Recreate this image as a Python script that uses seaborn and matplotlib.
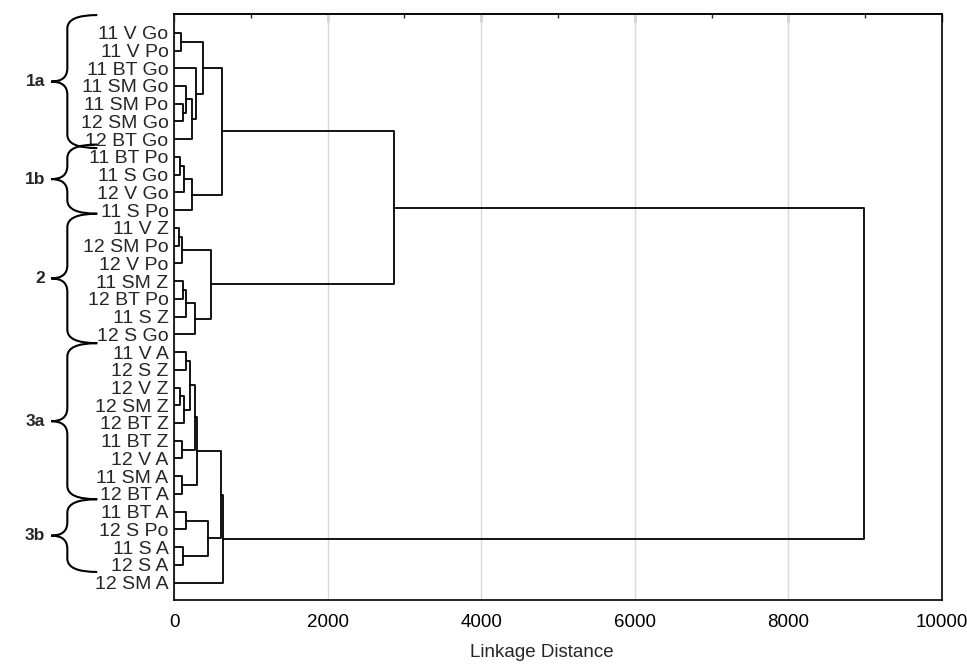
import numpy as np
import pandas as pd
import matplotlib
matplotlib.use("Agg")
import matplotlib.pyplot as plt
import matplotlib.transforms as mtransforms
from matplotlib.path import Path
from matplotlib.patches import PathPatch
from matplotlib.ticker import MultipleLocator
import seaborn as sns

# leaves, top to bottom
leaf_labels = [
    "11 V Go", "11 V Po", "11 BT Go", "11 SM Go", "11 SM Po", "12 SM Go", "12 BT Go",
    "11 BT Po", "11 S Go", "12 V Go", "11 S Po",
    "11 V Z", "12 SM Po", "12 V Po", "11 SM Z", "12 BT Po", "11 S Z", "12 S Go",
    "11 V A", "12 S Z", "12 V Z", "12 SM Z", "12 BT Z", "11 BT Z", "12 V A", "11 SM A", "12 BT A",
    "11 BT A", "12 S Po", "11 S A", "12 S A", "12 SM A",
]

# merges (scipy-like): ids >= 32 refer to earlier merges (32 + row)
merge_left = [0, 4, 3, 34, 2, 32, 7, 38, 39, 37,
              11, 42, 14, 44, 45, 43, 41,
              18, 20, 50, 49, 23, 52, 25, 54,
              27, 29, 57, 56, 60, 48]
merge_right = [1, 5, 33, 6, 35, 36, 8, 9, 10, 40,
               12, 13, 15, 16, 17, 46, 47,
               19, 21, 22, 51, 24, 53, 26, 55,
               28, 30, 58, 59, 31, 61]
merge_height = [85, 115, 160, 230, 280, 375, 82, 135, 239, 629,
                61, 100, 117, 160, 270, 482, 2870,
                150, 82, 135, 212, 97, 273, 97, 302,
                150, 120, 445, 610, 642, 8980]

# cluster braces on the left (in leaf units)
group_names = ["1a", "1b", "2", "3a", "3b"]
group_start = [-1.0, 6.3, 10.2, 17.5, 26.3]
group_end = [6.5, 10.2, 17.5, 26.3, 30.4]

n = len(leaf_labels)
pos = {i: (float(i), 0.0) for i in range(n)}
parts = []
for k, (a, b, h) in enumerate(zip(merge_left, merge_right, merge_height)):
    ya, ha = pos[a]
    yb, hb = pos[b]
    parts.append(pd.DataFrame({"x": [ha, h, h, hb], "y": [ya, ya, yb, yb], "seg": k}))
    pos[n + k] = ((ya + yb) / 2, h)
segs = pd.concat(parts, ignore_index=True)

sns.set_style("white")
plt.rcParams["font.family"] = ["Liberation Sans", "DejaVu Sans"]

fig = plt.figure(figsize=(9.67, 6.68), dpi=100)
ax = fig.add_axes([0.18, 0.1018, 0.794, 0.877])

ax.xaxis.grid(True, color="#d8d8d8", lw=1)
ax.set_axisbelow(True)
sns.lineplot(data=segs, x="x", y="y", units="seg", estimator=None, sort=False,
             color="black", lw=1.3, ax=ax, legend=False)

ax.set_xlim(0, 10000)
ax.set_ylim(31.98, -1.05)
ax.set_yticks(range(n))
ax.set_yticklabels(leaf_labels, fontsize=14)
ax.tick_params(axis="y", length=0, pad=4)

ax.xaxis.set_major_locator(MultipleLocator(2000))
ax.xaxis.set_minor_locator(MultipleLocator(400))
ax.tick_params(axis="x", which="major", direction="in", length=6, width=1,
               pad=10, colors="black")
ax.tick_params(axis="x", which="minor", direction="in", length=3, width=1)
for t in ax.get_xticklabels():
    t.set_fontfamily(["Liberation Sans Narrow", "Liberation Sans"])
    t.set_fontsize(13.5)
ax.set_xlabel("Linkage Distance", fontsize=13.5,
              fontfamily=["Liberation Sans Narrow", "Liberation Sans"])
ax.xaxis.set_label_coords(0.479, -0.075)
ax.set_ylabel("")

# top axis: ticks only, every 1000
top = ax.secondary_xaxis("top")
top.xaxis.set_major_locator(MultipleLocator(2000))
top.xaxis.set_minor_locator(MultipleLocator(1000))
top.tick_params(which="major", direction="in", length=6, width=1, labeltop=False)
top.tick_params(which="minor", direction="in", length=3, width=1)
top.spines["top"].set_linewidth(1.2)

for s in ax.spines.values():
    s.set_color("black")
    s.set_linewidth(1.2)
    s.set_visible(True)

# curly braces
trans = mtransforms.blended_transform_factory(ax.transAxes, ax.transData)
xe, xs, xt = -0.100, -0.139, -0.160
r = 0.75
for name, y0, y1 in zip(group_names, group_start, group_end):
    ym = (y0 + y1) / 2
    verts = [(xe, y0), (xs, y0), (xs, y0 + r),
             (xs, ym - r), (xs, ym), (xt, ym),
             (xs, ym), (xs, ym + r),
             (xs, y1 - r), (xs, y1), (xe, y1)]
    codes = [Path.MOVETO, Path.CURVE3, Path.CURVE3,
             Path.LINETO, Path.CURVE3, Path.CURVE3,
             Path.CURVE3, Path.CURVE3,
             Path.LINETO, Path.CURVE3, Path.CURVE3]
    ax.add_patch(PathPatch(Path(verts, codes), transform=trans, clip_on=False,
                           fill=False, lw=1.5, color="black"))
    ax.text(xt - 0.008, ym, name, transform=trans, ha="right", va="center",
            fontsize=12.5, fontweight="bold")

fig.savefig("out.png", dpi=100)
